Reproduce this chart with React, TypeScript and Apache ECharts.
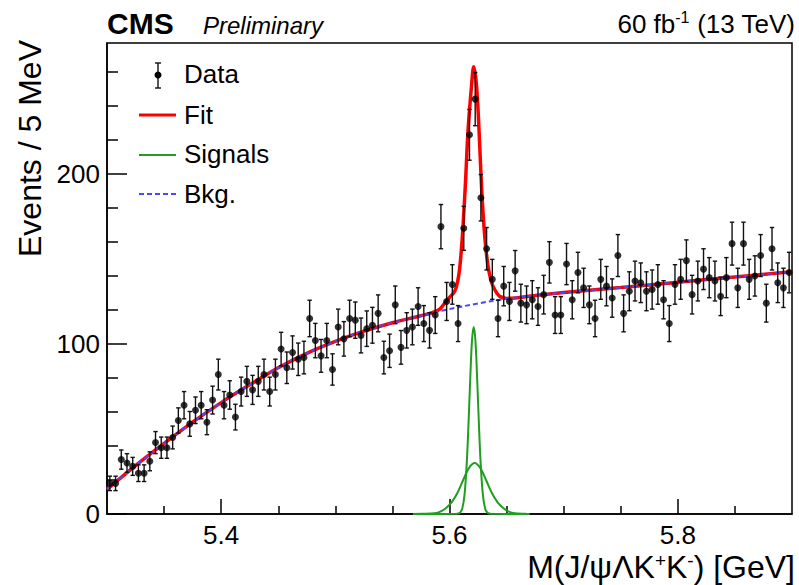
import React, { useEffect, useRef } from 'react';
import * as echarts from 'echarts';

// ---------- data ----------
const BIN_LO = 5.3;
const BIN_WIDTH = 0.005; // 5 MeV bins

const counts = [
  18, 18, 32, 30, 28, 24, 24, 31, 42, 39,
  39, 45, 55, 64, 53, 61, 64, 54, 67, 82,
  64, 70, 57, 72, 78, 73, 78, 82, 72, 82,
  97, 86, 95, 91, 92, 115, 102, 93, 102, 85,
  110, 103, 115, 114, 105, 109, 111, 118, 92, 96,
  123, 98, 108, 110, 122, 112, 108, 117, 169, 125,
  135, 112, 168, 223, 244, 186, 156, 138, 115, 134,
  125, 143, 124, 123, 126, 122, 129, 148, 117, 117,
  147, 126, 142, 133, 123, 115, 138, 134, 127, 152,
  118, 131, 137, 136, 131, 132, 135, 126, 112, 135,
  138, 149, 129, 137, 144, 139, 137, 128, 139, 159,
  133, 159, 138, 140, 152, 124, 156, 136, 133, 142,
];

const bkgX = [5.300, 5.325, 5.350, 5.375, 5.400, 5.425, 5.450, 5.475, 5.500, 5.525, 5.550, 5.575, 5.600, 5.625, 5.650, 5.675, 5.700, 5.750, 5.800, 5.850, 5.900];
const bkgY = [14.5, 28.5, 41.5, 54, 65.5, 76, 86, 94.5, 101.5, 107.5, 112.5, 116.6, 120.5, 123.8, 126.6, 128.5, 130.2, 133.2, 136.3, 139.4, 142.5];

const fitX = [5.300, 5.325, 5.350, 5.375, 5.400, 5.425, 5.450, 5.475, 5.500, 5.525, 5.550, 5.575, 5.5853, 5.5915, 5.5958, 5.6002, 5.6046, 5.6072, 5.6090, 5.6107, 5.6119, 5.6140, 5.6162, 5.6192, 5.6212, 5.6234, 5.6252, 5.6265, 5.6285, 5.6309, 5.6337, 5.6361, 5.6381, 5.6414, 5.6440, 5.6499, 5.675, 5.700, 5.750, 5.800, 5.850, 5.900];
const fitY = [14.5, 28.5, 41.5, 54, 65.5, 76, 86, 94.5, 101.5, 107.5, 112.5, 116.6, 118.5, 120.5, 124, 127.5, 131, 137, 145, 158, 170, 195, 225, 251, 263, 254, 235, 216, 187, 163, 146, 138, 134, 130, 128, 126.8, 128.5, 130.2, 133.2, 136.3, 139.4, 142.5];

const sigNarrowX = [5.568, 5.6062, 5.6092, 5.6112, 5.6132, 5.6152, 5.6167, 5.6182, 5.6197, 5.6212, 5.6227, 5.6242, 5.6257, 5.6272, 5.6292, 5.6312, 5.6332, 5.6362, 5.670];
const sigNarrowY = [0, 0.1, 0.7, 3.2, 11.5, 31, 54, 80, 102, 110, 102, 80, 54, 31, 11.5, 3.2, 0.7, 0.1, 0];

const sigWideX = [5.568, 5.577, 5.587, 5.592, 5.597, 5.602, 5.607, 5.612, 5.617, 5.622, 5.627, 5.632, 5.637, 5.642, 5.647, 5.652, 5.657, 5.667, 5.670];
const sigWideY = [0, 0.1, 0.5, 1.4, 3.5, 7, 12.5, 20, 27, 30, 27, 20, 12.5, 7, 3.5, 1.4, 0.5, 0.1, 0];

const xMajorTicks = [5.4, 5.6, 5.8];
const xMinorTicks = [5.35, 5.45, 5.5, 5.55, 5.65, 5.7, 5.75, 5.85];
const yMajorTicks = [0, 100, 200];
const yMinorTicks = [20, 40, 60, 80, 120, 140, 160, 180, 220, 240, 260];

const X_MIN = 5.3;
const X_MAX = 5.9;
const Y_MIN = 0;
const Y_MAX = 277;

// ---------- styles ----------
const FONT = "'Liberation Sans', Arial, Helvetica, sans-serif";
const RED = '#ff0000';
const GREEN = '#1f9e1f';
const BLUE = '#4a4af2';

const zip = (xs: number[], ys: number[]) => xs.map((x, i) => [x, ys[i]]);

export default function App() {
  const ref = useRef<HTMLDivElement>(null);

  useEffect(() => {
    if (!ref.current) return;
    const chart = echarts.init(ref.current, undefined, { renderer: 'svg' });

    const points = counts.map((c, i) => [BIN_LO + (i + 0.5) * BIN_WIDTH, c]);
    const errors = counts.map((c, i) => [
      BIN_LO + (i + 0.5) * BIN_WIDTH,
      c - Math.sqrt(c),
      c + Math.sqrt(c),
    ]);

    const axisCommonX = {
      type: 'value' as const,
      min: X_MIN,
      max: X_MAX,
      position: 'bottom' as const,
      splitLine: { show: false },
    };
    const axisCommonY = {
      type: 'value' as const,
      min: Y_MIN,
      max: Y_MAX,
      position: 'left' as const,
      splitLine: { show: false },
    };

    const curve = (name: string, xs: number[], ys: number[], lineStyle: any, z: number, smooth: number) => ({
      name,
      type: 'line',
      data: zip(xs, ys),
      xAxisIndex: 0,
      yAxisIndex: 0,
      smooth,
      showSymbol: false,
      lineStyle,
      z,
    });

    const option: any = {
      animation: false,
      backgroundColor: '#ffffff',
      grid: {
        left: 107,
        right: 7,
        top: 43,
        bottom: 71,
        show: true,
        borderColor: '#000',
        borderWidth: 1.5,
        backgroundColor: 'transparent',
      },
      xAxis: [
        {
          ...axisCommonX,
          axisLine: { show: true, lineStyle: { color: '#000', width: 1.5 } },
          axisTick: {
            show: true,
            inside: true,
            length: 15,
            customValues: xMajorTicks,
            lineStyle: { color: '#000', width: 1.5 },
          },
          axisLabel: {
            show: true,
            customValues: xMajorTicks,
            margin: 8,
            color: '#000',
            fontSize: 26,
            fontFamily: FONT,
            formatter: (v: number) => v.toFixed(1),
          },
        },
        {
          ...axisCommonX,
          axisLine: { show: false },
          axisTick: {
            show: true,
            inside: true,
            length: 8,
            customValues: xMinorTicks,
            lineStyle: { color: '#000', width: 1.5 },
          },
          axisLabel: { show: false },
        },
      ],
      yAxis: [
        {
          ...axisCommonY,
          axisLine: { show: true, lineStyle: { color: '#000', width: 1.5 } },
          axisTick: {
            show: true,
            inside: true,
            length: 20,
            customValues: yMajorTicks,
            lineStyle: { color: '#000', width: 1.5 },
          },
          axisLabel: {
            show: true,
            customValues: yMajorTicks,
            margin: 7,
            color: '#000',
            fontSize: 26,
            fontFamily: FONT,
          },
        },
        {
          ...axisCommonY,
          axisLine: { show: false },
          axisTick: {
            show: true,
            inside: true,
            length: 11,
            customValues: yMinorTicks,
            lineStyle: { color: '#000', width: 1.5 },
          },
          axisLabel: { show: false },
        },
      ],
      series: [
        curve('Signal narrow', sigNarrowX, sigNarrowY, { color: GREEN, width: 2 }, 2, 0.35),
        curve('Signal wide', sigWideX, sigWideY, { color: GREEN, width: 2 }, 2, 0.35),
        curve('Fit', fitX, fitY, { color: RED, width: 3.5 }, 3, 0.35),
        curve('Bkg.', bkgX, bkgY, { color: BLUE, width: 2, type: [5, 3] }, 4, 0.5),
        {
          name: 'Data errors',
          type: 'custom',
          xAxisIndex: 0,
          yAxisIndex: 0,
          data: errors,
          encode: { x: 0, y: [1, 2] },
          z: 5,
          renderItem: (params: any, api: any) => {
            const x = api.value(0);
            const lo = api.value(1);
            const hi = api.value(2);
            const pHi = api.coord([x, hi]);
            const pLo = api.coord([x, lo]);
            const cap = 2.2;
            const st = { stroke: '#111', lineWidth: 1.4 };
            return {
              type: 'group',
              children: [
                { type: 'line', shape: { x1: pHi[0], y1: pHi[1], x2: pLo[0], y2: pLo[1] }, style: st },
                { type: 'line', shape: { x1: pHi[0] - cap, y1: pHi[1], x2: pHi[0] + cap, y2: pHi[1] }, style: st },
                { type: 'line', shape: { x1: pLo[0] - cap, y1: pLo[1], x2: pLo[0] + cap, y2: pLo[1] }, style: st },
              ],
            };
          },
        },
        {
          name: 'Data',
          type: 'scatter',
          xAxisIndex: 0,
          yAxisIndex: 0,
          data: points,
          symbol: 'circle',
          symbolSize: 7,
          itemStyle: { color: '#000' },
          z: 6,
        },
      ],
      graphic: [
        // header
        {
          type: 'text',
          x: 107,
          y: 23,
          style: { text: 'CMS', font: `bold 30px ${FONT}`, fill: '#000', align: 'left', verticalAlign: 'middle' },
        },
        {
          type: 'text',
          x: 203,
          y: 25,
          style: { text: 'Preliminary', font: `italic 24px ${FONT}`, fill: '#000', align: 'left', verticalAlign: 'middle' },
        },
        {
          type: 'text',
          x: 795,
          y: 24,
          style: {
            text: '{a|60 fb}{s|-1}{a| (13 TeV)}',
            align: 'right',
            verticalAlign: 'middle',
            fill: '#000',
            rich: {
              a: { fontSize: 26, fontFamily: FONT, lineHeight: 30, fill: '#000' },
              s: { fontSize: 16, fontFamily: FONT, lineHeight: 16, verticalAlign: 'top', fill: '#000' },
            },
          },
        },
        // axis titles
        {
          type: 'text',
          x: 30,
          y: 40,
          rotation: Math.PI / 2,
          style: { text: 'Events / 5 MeV', font: `32px ${FONT}`, fill: '#000', align: 'right', verticalAlign: 'middle' },
        },
        {
          type: 'text',
          x: 795,
          y: 567,
          style: {
            text: '{a|M(J/ψΛK}{s|+}{a|K}{s|-}{a|) [GeV]}',
            align: 'right',
            verticalAlign: 'middle',
            fill: '#000',
            rich: {
              a: { fontSize: 32, fontFamily: FONT, lineHeight: 32, fill: '#000' },
              s: { fontSize: 19, fontFamily: FONT, lineHeight: 16, verticalAlign: 'top', fill: '#000' },
            },
          },
        },
        // legend: Data
        {
          type: 'line',
          shape: { x1: 158, y1: 63, x2: 158, y2: 88 },
          style: { stroke: '#111', lineWidth: 1.4 },
        },
        {
          type: 'line',
          shape: { x1: 155, y1: 63, x2: 161, y2: 63 },
          style: { stroke: '#111', lineWidth: 1.4 },
        },
        {
          type: 'line',
          shape: { x1: 155, y1: 88, x2: 161, y2: 88 },
          style: { stroke: '#111', lineWidth: 1.4 },
        },
        {
          type: 'circle',
          shape: { cx: 158, cy: 75, r: 3.5 },
          style: { fill: '#000' },
        },
        {
          type: 'text',
          x: 184,
          y: 74,
          style: { text: 'Data', font: `26px ${FONT}`, fill: '#000', align: 'left', verticalAlign: 'middle' },
        },
        // legend: Fit
        {
          type: 'line',
          shape: { x1: 139, y1: 115, x2: 176, y2: 115 },
          style: { stroke: RED, lineWidth: 3 },
        },
        {
          type: 'text',
          x: 184,
          y: 115,
          style: { text: 'Fit', font: `26px ${FONT}`, fill: '#000', align: 'left', verticalAlign: 'middle' },
        },
        // legend: Signals
        {
          type: 'line',
          shape: { x1: 139, y1: 155, x2: 176, y2: 155 },
          style: { stroke: GREEN, lineWidth: 2 },
        },
        {
          type: 'text',
          x: 184,
          y: 154,
          style: { text: 'Signals', font: `26px ${FONT}`, fill: '#000', align: 'left', verticalAlign: 'middle' },
        },
        // legend: Bkg
        {
          type: 'line',
          shape: { x1: 139, y1: 194, x2: 176, y2: 194 },
          style: { stroke: BLUE, lineWidth: 2, lineDash: [5, 3] },
        },
        {
          type: 'text',
          x: 184,
          y: 194,
          style: { text: 'Bkg.', font: `26px ${FONT}`, fill: '#000', align: 'left', verticalAlign: 'middle' },
        },
      ],
    };

    chart.setOption(option);
    return () => {
      chart.dispose();
    };
  }, []);

  return (
    <div
      ref={ref}
      style={{ position: 'fixed', left: 0, top: 0, width: 799, height: 585, background: '#fff' }}
    />
  );
}
